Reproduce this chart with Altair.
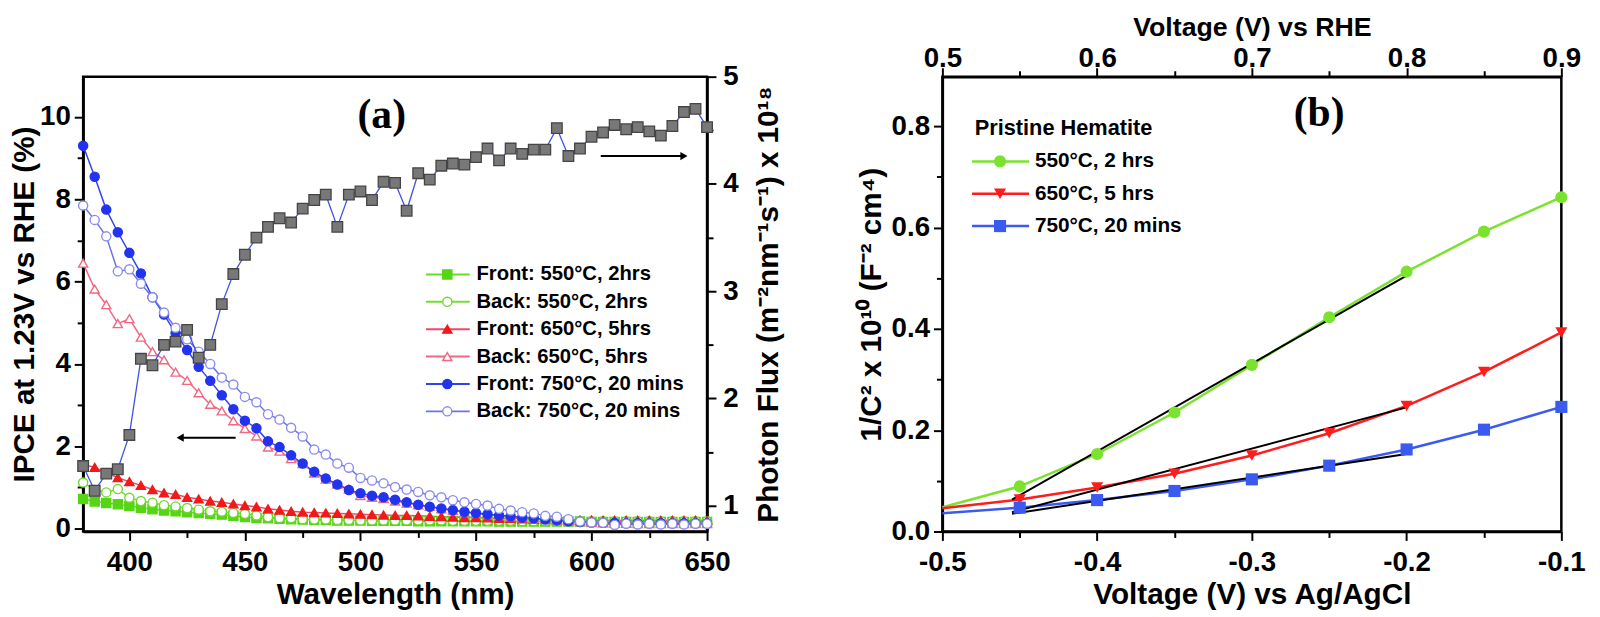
import altair as alt
import pandas as pd

# ---------------- Panel (a) data ----------------
wavelength = [380, 385, 390, 395, 400, 405, 410, 415, 420, 425, 430, 435, 440, 445, 450,
              455, 460, 465, 470, 475, 480, 485, 490, 495, 500, 505, 510, 515, 520, 525,
              530, 535, 540, 545, 550, 555, 560, 565, 570, 575, 580, 585, 590, 595, 600,
              605, 610, 615, 620, 625, 630, 635, 640, 645, 650]

front_550 = [0.72, 0.66, 0.62, 0.59, 0.55, 0.51, 0.47, 0.44, 0.42, 0.40, 0.38, 0.36, 0.34, 0.31, 0.28,
             0.26, 0.25, 0.24, 0.23, 0.22, 0.21, 0.21, 0.20, 0.20, 0.20, 0.19, 0.19, 0.19, 0.19, 0.18,
             0.18, 0.18, 0.18, 0.18, 0.18, 0.18, 0.17, 0.17, 0.17, 0.17, 0.17, 0.17, 0.17, 0.17, 0.16,
             0.16, 0.16, 0.16, 0.16, 0.16, 0.16, 0.16, 0.16, 0.16, 0.16]
back_550 = [1.12, 0.94, 0.88, 0.96, 0.75, 0.67, 0.63, 0.57, 0.54, 0.50, 0.46, 0.42, 0.41, 0.38, 0.36,
            0.32, 0.28, 0.26, 0.25, 0.23, 0.22, 0.22, 0.21, 0.21, 0.20, 0.20, 0.20, 0.20, 0.20, 0.20,
            0.20, 0.20, 0.19, 0.19, 0.19, 0.19, 0.19, 0.19, 0.18, 0.18, 0.18, 0.18, 0.18, 0.18, 0.18,
            0.18, 0.18, 0.18, 0.18, 0.18, 0.18, 0.18, 0.18, 0.18, 0.18]
front_650 = [1.55, 1.49, 1.35, 1.24, 1.14, 1.05, 0.95, 0.87, 0.83, 0.76, 0.72, 0.67, 0.64, 0.60, 0.56,
             0.53, 0.48, 0.45, 0.42, 0.40, 0.39, 0.38, 0.37, 0.36, 0.35, 0.34, 0.33, 0.32, 0.32, 0.31,
             0.30, 0.29, 0.28, 0.27, 0.27, 0.26, 0.25, 0.25, 0.24, 0.23, 0.23, 0.22, 0.22, 0.21, 0.21,
             0.20, 0.20, 0.20, 0.20, 0.20, 0.20, 0.20, 0.20, 0.20, 0.20]
back_650 = [6.45, 5.82, 5.44, 4.98, 5.10, 4.65, 4.30, 4.10, 3.80, 3.60, 3.30, 3.02, 2.86, 2.62, 2.43,
            2.25, 1.98, 1.88, 1.70, 1.58, 1.35, 1.20, 1.08, 0.96, 0.80, 0.76, 0.73, 0.67, 0.62, 0.58,
            0.54, 0.48, 0.44, 0.40, 0.37, 0.34, 0.32, 0.29, 0.27, 0.25, 0.23, 0.21, 0.19, 0.17, 0.15,
            0.14, 0.13, 0.13, 0.12, 0.12, 0.12, 0.12, 0.12, 0.12, 0.12]
front_750 = [9.30, 8.55, 7.75, 7.20, 6.70, 6.20, 5.62, 5.20, 4.75, 4.34, 3.93, 3.59, 3.24, 2.90, 2.62,
             2.44, 2.12, 1.98, 1.78, 1.58, 1.38, 1.22, 1.07, 0.94, 0.86, 0.80, 0.76, 0.70, 0.64, 0.58,
             0.53, 0.49, 0.45, 0.41, 0.38, 0.35, 0.32, 0.30, 0.27, 0.25, 0.22, 0.20, 0.18, 0.16, 0.15,
             0.14, 0.14, 0.13, 0.13, 0.13, 0.13, 0.13, 0.13, 0.13, 0.13]
back_750 = [7.85, 7.50, 7.10, 6.25, 6.30, 5.95, 5.62, 5.25, 4.88, 4.60, 4.30, 4.00, 3.67, 3.50, 3.20,
            3.07, 2.78, 2.65, 2.45, 2.24, 1.92, 1.80, 1.58, 1.48, 1.23, 1.17, 1.10, 1.01, 0.95, 0.89,
            0.81, 0.76, 0.69, 0.64, 0.60, 0.56, 0.48, 0.44, 0.40, 0.37, 0.31, 0.29, 0.23, 0.17, 0.15,
            0.14, 0.09, 0.12, 0.10, 0.12, 0.10, 0.12, 0.10, 0.12, 0.12]
photon_flux = [1.37, 1.14, 1.30, 1.34, 1.66, 2.37, 2.31, 2.50, 2.53, 2.64, 2.38, 2.50, 2.88, 3.16, 3.34,
               3.50, 3.60, 3.68, 3.64, 3.77, 3.85, 3.90, 3.60, 3.90, 3.93, 3.85, 4.02, 4.01, 3.75, 4.10,
               4.04, 4.17, 4.19, 4.18, 4.25, 4.33, 4.22, 4.33, 4.28, 4.32, 4.32, 4.52, 4.26, 4.33, 4.44,
               4.48, 4.55, 4.51, 4.53, 4.49, 4.45, 4.54, 4.67, 4.70, 4.53]

series_a = ["Front: 550°C, 2hrs", "Back: 550°C, 2hrs", "Front: 650°C, 5hrs",
            "Back: 650°C, 5hrs", "Front: 750°C, 20 mins", "Back: 750°C, 20 mins"]
values_a = [front_550, back_550, front_650, back_650, front_750, back_750]
line_colors_a = ["#66dd22", "#77dd33", "#f0486a", "#f06884", "#3344ee", "#6a74e4"]
fill_colors_a = ["#55d514", "#ffffff", "#f01a1a", "#ffffff", "#2233ee", "#ffffff"]
stroke_colors_a = ["#55d514", "#70d830", "#f01a1a", "#f06884", "#2233ee", "#8a8cf0"]
shapes_a = ["square", "circle", "triangle-up", "triangle-up", "circle", "circle"]

# annotation arrows (data coordinates)
arrow_left_x = [446.0, 422.0]
arrow_left_y = [2.21, 2.21]
arrow_right_x = [604.0, 640.0]
arrow_right_y = [4.26, 4.26]

# ---------------- Panel (b) data ----------------
voltage_agcl = [-0.5, -0.45, -0.4, -0.35, -0.3, -0.25, -0.2, -0.15, -0.1]
mott_550 = [0.048, 0.089, 0.153, 0.235, 0.329, 0.423, 0.513, 0.592, 0.660]
mott_650 = [0.046, 0.063, 0.087, 0.114, 0.150, 0.194, 0.248, 0.315, 0.393]
mott_750 = [0.036, 0.047, 0.062, 0.080, 0.103, 0.130, 0.162, 0.201, 0.246]
series_b = ["550°C, 2 hrs", "650°C, 5 hrs", "750°C, 20 mins"]
colors_b = ["#7be22e", "#ff1c1c", "#3a5af0"]
shapes_b = ["circle", "triangle-down", "square"]

fit_x1 = [-0.455, -0.455, -0.455]
fit_y1 = [0.063, 0.038, 0.035]
fit_x2 = [-0.200, -0.200, -0.200]
fit_y2 = [0.505, 0.245, 0.153]

rhe_range = [0.5, 0.9]

FONT = "Liberation Sans"
LABEL_SIZE = 28
TITLE_SIZE = 30

# ---------------- layout constants ----------------
WA, HA = 631, 460
WB, HB = 626, 460
YA_DOMAIN = [-0.07, 10.98]
YR_DOMAIN = [0.76, 5]
YB_DOMAIN = [0, 0.898]

# ================= Panel (a) =================
rows = []
for name, vals in zip(series_a, values_a):
    for w, v in zip(wavelength, vals):
        rows.append({"wl": w, "ipce": v, "series": name})
df_a = pd.DataFrame(rows)

line_scale_a = alt.Scale(domain=series_a, range=line_colors_a)
fill_scale_a = alt.Scale(domain=series_a, range=fill_colors_a)
stroke_scale_a = alt.Scale(domain=series_a, range=stroke_colors_a)
shape_scale_a = alt.Scale(domain=series_a, range=shapes_a)

axis_xa = alt.Axis(
    title="Wavelength (nm)",
    values=list(range(400, 651, 25)),
    labelExpr="datum.value % 50 == 0 ? datum.label : ''",
    tickSize={"condition": {"test": "datum.value % 50 != 0", "value": 6}, "value": 9},
    labelPadding=8, titlePadding=4,
)
axis_ya = alt.Axis(
    title="IPCE at 1.23V vs RHE (%)",
    values=list(range(0, 11)),
    labelExpr="datum.value % 2 == 0 ? datum.label : ''",
    tickSize={"condition": {"test": "datum.value % 2 != 0", "value": 6}, "value": 9},
    labelPadding=4, titlePadding=0,
)
axis_yr = alt.Axis(
    title="Photon Flux (m⁻²nm⁻¹s⁻¹) x 10¹⁸",
    orient="right",
    values=[1, 1.5, 2, 2.5, 3, 3.5, 4, 4.5, 5],
    labelExpr="datum.value % 1 == 0 ? format(datum.value, 'd') : ''",
    tickSize={"condition": {"test": "datum.value % 1 != 0", "value": 6}, "value": 9},
    titleAngle=270,
    titleBaseline="top",
    labelPadding=7, titlePadding=16,
)

xa = alt.X("wl:Q", scale=alt.Scale(domain=[380, 650], nice=False, zero=False), axis=axis_xa)
ya = alt.Y("ipce:Q", scale=alt.Scale(domain=YA_DOMAIN, nice=False, zero=False), axis=axis_ya)

base_a = alt.Chart(df_a)
lines_a = base_a.mark_line(strokeWidth=1.5).encode(
    x=xa, y=ya,
    color=alt.Color("series:N", scale=line_scale_a, legend=None),
    detail="series:N",
)
points_a = base_a.mark_point(filled=True, size=85, strokeWidth=1.4, opacity=1).encode(
    x=xa, y=ya,
    shape=alt.Shape("series:N", scale=shape_scale_a, legend=None),
    fill=alt.Fill("series:N", scale=fill_scale_a, legend=None),
    stroke=alt.Stroke("series:N", scale=stroke_scale_a, legend=None),
)

# legend of panel (a) (pixel positions inside the plot)
leg_a = pd.DataFrame({
    "series": series_a,
    "py": [200 + i * 27.7 for i in range(len(series_a))],
    "lx1": [346.7] * len(series_a),
    "lx2": [391.0] * len(series_a),
    "mx": [368.3] * len(series_a),
    "tx": [397.7] * len(series_a),
})
leg_a_lines = alt.Chart(leg_a).mark_rule(strokeWidth=2).encode(
    x=alt.X("lx1:Q", scale=None, axis=None), x2="lx2:Q",
    y=alt.Y("py:Q", scale=None, axis=None),
    color=alt.Color("series:N", scale=line_scale_a, legend=None),
)
leg_a_pts = alt.Chart(leg_a).mark_point(filled=True, size=85, strokeWidth=1.4, opacity=1).encode(
    x=alt.X("mx:Q", scale=None, axis=None),
    y=alt.Y("py:Q", scale=None, axis=None),
    shape=alt.Shape("series:N", scale=shape_scale_a, legend=None),
    fill=alt.Fill("series:N", scale=fill_scale_a, legend=None),
    stroke=alt.Stroke("series:N", scale=stroke_scale_a, legend=None),
)
leg_a_txt = alt.Chart(leg_a).mark_text(
    align="left", baseline="middle", font=FONT, fontSize=20.5, fontWeight="bold", color="black"
).encode(
    x=alt.X("tx:Q", scale=None, axis=None),
    y=alt.Y("py:Q", scale=None, axis=None),
    text="series:N",
)

arrow_l_df = pd.DataFrame({"x": arrow_left_x, "y": arrow_left_y})
arrow_l_shaft = alt.Chart(arrow_l_df).mark_line(color="black", strokeWidth=2).encode(
    x=alt.X("x:Q", scale=alt.Scale(domain=[380, 650], nice=False, zero=False)),
    y=alt.Y("y:Q", scale=alt.Scale(domain=YA_DOMAIN, nice=False, zero=False)),
)
arrow_l_head = alt.Chart(arrow_l_df.iloc[[1]]).mark_point(
    shape="triangle-left", filled=True, color="black", size=70, opacity=1
).encode(x="x:Q", y="y:Q")

label_a = alt.Chart(pd.DataFrame({"t": ["(a)"]})).mark_text(
    font="Liberation Serif", fontSize=42, fontWeight="bold", color="black", baseline="middle"
).encode(x=alt.value(302), y=alt.value(39), text="t:N")

left_layer = alt.layer(lines_a, points_a, arrow_l_shaft, arrow_l_head,
                       leg_a_lines, leg_a_pts, leg_a_txt, label_a)

df_flux = pd.DataFrame({"wl": wavelength, "flux": photon_flux})
yr = alt.Y("flux:Q", scale=alt.Scale(domain=YR_DOMAIN, nice=False, zero=False), axis=axis_yr)
flux_line = alt.Chart(df_flux).mark_line(color="#3f51e6", strokeWidth=1.3).encode(x=xa, y=yr)
flux_pts = alt.Chart(df_flux).mark_point(
    shape="square", filled=True, size=115, fill="#787878", stroke="#454545", strokeWidth=1.3, opacity=1
).encode(x=xa, y=yr)
arrow_r_df = pd.DataFrame({"wl": arrow_right_x, "flux": arrow_right_y})
arrow_r_shaft = alt.Chart(arrow_r_df).mark_line(color="black", strokeWidth=2).encode(x=xa, y=yr)
arrow_r_head = alt.Chart(arrow_r_df.iloc[[1]]).mark_point(
    shape="triangle-right", filled=True, color="black", size=70, opacity=1
).encode(x=xa, y=yr)

right_layer = alt.layer(flux_line, flux_pts, arrow_r_shaft, arrow_r_head)

panel_a = alt.layer(left_layer, right_layer).resolve_scale(y="independent").properties(
    width=WA, height=HA
)

# ================= Panel (b) =================
rows_b = []
for name, vals in zip(series_b, [mott_550, mott_650, mott_750]):
    for v, c in zip(voltage_agcl, vals):
        rows_b.append({"v": v, "c": c, "series": name})
df_b = pd.DataFrame(rows_b)

color_scale_b = alt.Scale(domain=series_b, range=colors_b)
shape_scale_b = alt.Scale(domain=series_b, range=shapes_b)

axis_xb = alt.Axis(
    title="Voltage (V) vs Ag/AgCl",
    values=[-0.5, -0.45, -0.4, -0.35, -0.3, -0.25, -0.2, -0.15, -0.1],
    labelExpr="round(datum.value*100) % 10 == 0 ? replace(format(datum.value, '.1f'), '\u2212', '-') : ''",
    tickSize={"condition": {"test": "round(datum.value*100) % 10 != 0", "value": 6}, "value": 9},
    labelPadding=8, titlePadding=4,
)
axis_yb = alt.Axis(
    title="1/C² x 10¹⁰  (F⁻² cm⁴)",
    values=[0, 0.1, 0.2, 0.3, 0.4, 0.5, 0.6, 0.7, 0.8],
    labelExpr="round(datum.value*10) % 2 == 0 ? format(datum.value, '.1f') : ''",
    tickSize={"condition": {"test": "round(datum.value*10) % 2 != 0", "value": 6}, "value": 9},
    labelPadding=4, titlePadding=5,
)
axis_xt = alt.Axis(
    title="Voltage (V) vs RHE",
    orient="top",
    values=[0.5, 0.55, 0.6, 0.65, 0.7, 0.75, 0.8, 0.85, 0.9],
    labelExpr="round(datum.value*100) % 10 == 0 ? format(datum.value, '.1f') : ''",
    tickSize={"condition": {"test": "round(datum.value*100) % 10 != 0", "value": 6}, "value": 9},
    labelPadding=-5,
    titlePadding=4,
    titleFontSize=27,
)

xb = alt.X("v:Q", scale=alt.Scale(domain=[-0.5, -0.1], nice=False, zero=False), axis=axis_xb)
yb = alt.Y("c:Q", scale=alt.Scale(domain=YB_DOMAIN, nice=False, zero=False), axis=axis_yb)

lines_b = alt.Chart(df_b).mark_line(strokeWidth=2.5).encode(
    x=xb, y=yb, color=alt.Color("series:N", scale=color_scale_b, legend=None), detail="series:N"
)
points_b = alt.Chart(df_b).transform_filter("datum.v > -0.49").mark_point(
    filled=True, size=150, opacity=1
).encode(
    x=xb, y=yb,
    color=alt.Color("series:N", scale=color_scale_b, legend=None),
    shape=alt.Shape("series:N", scale=shape_scale_b, legend=None),
)
fits_df = pd.DataFrame({"x1": fit_x1, "y1": fit_y1, "x2": fit_x2, "y2": fit_y2})
fits = alt.Chart(fits_df).mark_rule(color="black", strokeWidth=2).encode(
    x=alt.X("x1:Q", scale=alt.Scale(domain=[-0.5, -0.1], nice=False, zero=False)),
    y=alt.Y("y1:Q", scale=alt.Scale(domain=YB_DOMAIN, nice=False, zero=False)),
    x2="x2:Q", y2="y2:Q",
)

leg_b = pd.DataFrame({
    "series": series_b,
    "py": [85.7 + i * 32.7 for i in range(len(series_b))],
    "lx1": [30.0] * 3,
    "lx2": [87.7] * 3,
    "mx": [58.3] * 3,
    "tx": [93.6] * 3,
})
leg_b_lines = alt.Chart(leg_b).mark_rule(strokeWidth=2.5).encode(
    x=alt.X("lx1:Q", scale=None, axis=None), x2="lx2:Q",
    y=alt.Y("py:Q", scale=None, axis=None),
    color=alt.Color("series:N", scale=color_scale_b, legend=None),
)
leg_b_pts = alt.Chart(leg_b).mark_point(filled=True, size=150, opacity=1).encode(
    x=alt.X("mx:Q", scale=None, axis=None),
    y=alt.Y("py:Q", scale=None, axis=None),
    color=alt.Color("series:N", scale=color_scale_b, legend=None),
    shape=alt.Shape("series:N", scale=shape_scale_b, legend=None),
)
leg_b_txt = alt.Chart(leg_b).mark_text(
    align="left", baseline="middle", font=FONT, fontSize=21, fontWeight="bold", color="black"
).encode(
    x=alt.X("tx:Q", scale=None, axis=None),
    y=alt.Y("py:Q", scale=None, axis=None),
    text="series:N",
)
leg_b_title = alt.Chart(pd.DataFrame({"t": ["Pristine Hematite"]})).mark_text(
    align="left", baseline="middle", font=FONT, fontSize=22, fontWeight="bold", color="black"
).encode(x=alt.value(32.7), y=alt.value(51.7), text="t:N")
label_b = alt.Chart(pd.DataFrame({"t": ["(b)"]})).mark_text(
    font="Liberation Serif", fontSize=42, fontWeight="bold", color="black", baseline="middle"
).encode(x=alt.value(381), y=alt.value(37), text="t:N")

main_b = alt.layer(lines_b, fits, points_b, leg_b_lines, leg_b_pts, leg_b_txt, leg_b_title, label_b)

top_b = alt.Chart(pd.DataFrame({"rhe": rhe_range})).mark_point(opacity=0).encode(
    x=alt.X("rhe:Q", scale=alt.Scale(domain=[0.5, 0.9], nice=False, zero=False), axis=axis_xt)
)

panel_b = alt.layer(main_b, top_b).resolve_scale(x="independent").properties(
    width=WB, height=HB
)

chart = alt.hconcat(panel_a, panel_b, spacing=238, bounds="flush").resolve_scale(
    color="independent", shape="independent", fill="independent", stroke="independent"
).configure_view(
    stroke="black", strokeWidth=2.5
).configure_axis(
    labelFont=FONT, titleFont=FONT, labelFontWeight="bold", titleFontWeight="bold",
    labelFontSize=LABEL_SIZE, titleFontSize=TITLE_SIZE, labelColor="black", titleColor="black",
    domainColor="black", domainWidth=2.5, tickColor="black", tickWidth=2,
    grid=False, labelFlush=False, labelOverlap=False,
).properties(
    background="white",
    padding={"left": 0, "top": 0, "right": 5, "bottom": 0},
)

chart.save("out.html", embed_options={"renderer": "svg", "actions": False})
